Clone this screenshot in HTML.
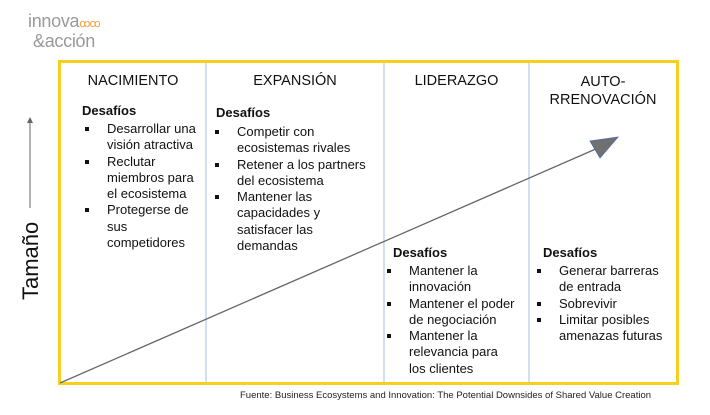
<!DOCTYPE html>
<html><head><meta charset="utf-8"><style>
body{margin:0;width:710px;height:415px;background:#fff;position:relative;overflow:hidden;font-family:"Liberation Sans",sans-serif;color:#111}
.a{position:absolute}
.h{font-size:14.5px;text-align:center;position:absolute}
.d{font-size:13px;font-weight:bold;position:absolute}
ul{position:absolute;margin:0;padding:0;list-style:none;font-size:13px;line-height:16.3px}
li{position:relative;padding-left:25px}
li:before{content:"";position:absolute;left:3px;top:6px;width:4px;height:4px;background:#111}
.n li{white-space:nowrap}
</style></head><body>
<div class="a" style="left:28px;top:13px;font-size:18px;color:#9a9a9a;line-height:17px;letter-spacing:-0.3px">innova<span style="color:#f0a040;font-size:11px;letter-spacing:-1px">ꝏꝏ</span><br><span style="margin-left:5px">&amp;acción</span></div>
<svg class="a" style="left:0;top:0" width="710" height="415">
<rect x="59.5" y="61.5" width="618" height="322" fill="none" stroke="#f9cf1e" stroke-width="3"/>
<line x1="206" y1="63" x2="206" y2="382" stroke="#c5d3ec" stroke-width="1.5"/>
<line x1="384" y1="63" x2="384" y2="382" stroke="#c5d3ec" stroke-width="1.5"/>
<line x1="529" y1="63" x2="529" y2="382" stroke="#c5d3ec" stroke-width="1.5"/>
<line x1="60" y1="383" x2="598" y2="148" stroke="#666" stroke-width="1.3"/>
<polygon points="590,141 618,137 600,158" fill="#707070" stroke="#4a6aa8" stroke-width="0.8"/>
<line x1="30" y1="122" x2="30" y2="208" stroke="#888" stroke-width="1.3"/>
<polygon points="27,123 33,123 30,117" fill="#666"/>
<text x="0" y="0" transform="translate(38,300) rotate(-90)" font-size="22" font-family="Liberation Sans" fill="#111">Tamaño</text>
</svg>
<div class="h" style="left:60px;width:146px;top:73px">NACIMIENTO</div>
<div class="h" style="left:206px;width:178px;top:73px">EXPANSIÓN</div>
<div class="h" style="left:384px;width:145px;top:73px">LIDERAZGO</div>
<div class="h" style="left:529px;width:148px;top:73px;line-height:18px">AUTO-<br>RRENOVACIÓN</div>
<div class="d" style="left:82px;top:103px">Desafíos</div>
<ul style="left:82px;top:121px;width:122px"><li>Desarrollar una visión atractiva</li><li>Reclutar miembros para el ecosistema</li><li>Protegerse de sus competidores</li></ul>
<div class="d" style="left:216px;top:105px">Desafíos</div>
<ul style="left:212px;top:124px;width:155px"><li>Competir con ecosistemas rivales</li><li>Retener a los partners del ecosistema</li><li>Mantener las capacidades y satisfacer las demandas</li></ul>
<div class="d" style="left:393px;top:245px">Desafíos</div>
<ul class="n" style="left:384px;top:263px;width:145px"><li>Mantener la<br>innovación</li><li>Mantener el poder<br>de negociación</li><li>Mantener la<br>relevancia para<br>los clientes</li></ul>
<div class="d" style="left:543px;top:245px">Desafíos</div>
<ul style="left:534px;top:263px;width:142px"><li>Generar barreras de entrada</li><li>Sobrevivir</li><li>Limitar posibles amenazas futuras</li></ul>
<div class="a" style="left:240px;top:390px;font-size:9.5px;color:#222">Fuente: Business Ecosystems and Innovation: The Potential Downsides of Shared Value Creation</div>
</body></html>
